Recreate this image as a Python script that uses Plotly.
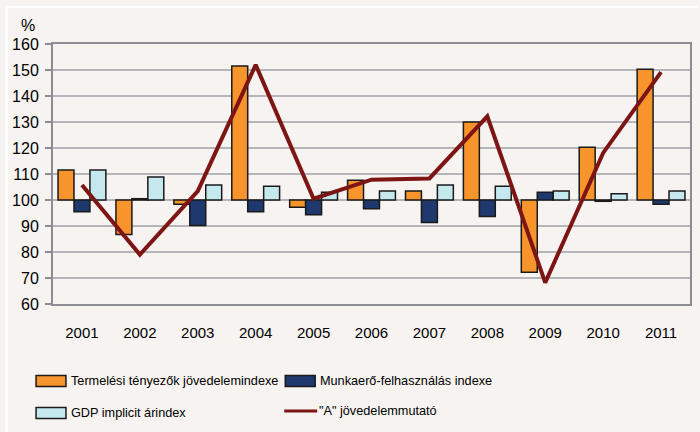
import plotly.graph_objects as go

years = ["2001", "2002", "2003", "2004", "2005", "2006", "2007", "2008", "2009", "2010", "2011"]
termelesi = [111.5, 86.7, 98.4, 151.5, 97.2, 107.6, 103.5, 130.0, 72.2, 120.3, 150.3]
munkaero = [95.5, 100.5, 90.2, 95.5, 94.3, 96.6, 91.3, 93.7, 103.0, 99.5, 98.4]
gdp_arindex = [111.5, 108.8, 105.8, 105.3, 103.0, 103.5, 105.8, 105.3, 103.5, 102.4, 103.5]
a_jovedelem = [105.8, 79.0, 103.4, 152.0, 100.5, 107.8, 108.3, 132.2, 68.2, 118.1, 149.2]

names = ["Termelési tényezők jövedelemindexe", "Munkaerő-felhasználás indexe",
         "GDP implicit árindex", "\"A\" jövedelemmutató"]

BASE = 100
ORANGE = "#F7942C"
NAVY = "#1F386E"
LIGHT = "#C5E8EE"
LINE = "#7D1515"
BG = "#F6F3F0"
GRID = "#B6B6BA"
BORDER = "#8C8C92"

W, H = 700, 432
L, R, T, B = 53, 8, 44, 128
PW, PH = W - L - R, H - T - B


def px(x):
    return (x - L) / PW


def py(y):
    return (H - B - y) / PH


fig = go.Figure()
for vals, col, nm in [(termelesi, ORANGE, names[0]), (munkaero, NAVY, names[1]), (gdp_arindex, LIGHT, names[2])]:
    fig.add_trace(go.Bar(
        x=years, y=[v - BASE for v in vals], base=BASE, name=nm,
        marker=dict(color=col, line=dict(color="#1A1A1A", width=1.5)),
        customdata=vals, hovertemplate="%{x}: %{customdata}<extra>" + nm + "</extra>",
        showlegend=False,
    ))
fig.add_trace(go.Scatter(
    x=years, y=a_jovedelem, mode="lines", name=names[3],
    line=dict(color=LINE, width=4), showlegend=False,
))

FONT = "Liberation Sans, Arial, sans-serif"
LEGFONT = "Liberation Sans Narrow, Arial Narrow, Liberation Sans, Arial, sans-serif"

shapes = [
    dict(type="line", xref="paper", yref="y", x0=0, x1=1, y0=BASE, y1=BASE,
         line=dict(color="#000000", width=1), layer="between"),
    # white bevel frame (top and left)
    dict(type="line", xref="paper", yref="paper", x0=px(6), x1=px(700), y0=py(7), y1=py(7),
         line=dict(color="#FFFFFF", width=2.5)),
    dict(type="line", xref="paper", yref="paper", x0=px(6.5), x1=px(6.5), y0=py(7), y1=py(432),
         line=dict(color="#FFFFFF", width=2.5)),
]

annotations = [
    dict(text="%", xref="paper", yref="paper", x=px(28), y=py(25), showarrow=False,
         font=dict(family=FONT, size=16, color="#000000"), xanchor="center", yanchor="middle"),
]

# custom legend
legend_items = [
    (36, 381, "box", ORANGE, names[0]),
    (286, 381, "box", NAVY, names[1]),
    (36, 413, "box", LIGHT, names[2]),
    (285, 411, "line", LINE, names[3]),
]
for x0, yc, kind, col, nm in legend_items:
    if kind == "box":
        shapes.append(dict(type="rect", xref="paper", yref="paper",
                           x0=px(x0), x1=px(x0 + 30), y0=py(yc - 5.5), y1=py(yc + 5.5),
                           fillcolor=col, line=dict(color="#1A1A1A", width=1.5)))
    else:
        shapes.append(dict(type="line", xref="paper", yref="paper",
                           x0=px(x0), x1=px(x0 + 33), y0=py(yc), y1=py(yc),
                           line=dict(color=col, width=3)))
    annotations.append(dict(text=nm, xref="paper", yref="paper", x=px(x0 + 33), y=py(yc),
                            showarrow=False, xanchor="left", yanchor="middle",
                            font=dict(family=LEGFONT, size=12.7, color="#000000")))

fig.update_layout(
    width=W, height=H,
    margin=dict(l=L, r=R, t=T, b=B, pad=0),
    paper_bgcolor=BG, plot_bgcolor=BG,
    barmode="group", bargap=0.174, bargroupgap=0,
    showlegend=False,
    shapes=shapes, annotations=annotations,
    font=dict(family=FONT, size=15, color="#000000"),
    xaxis=dict(type="category", showgrid=False, showline=True, mirror=True,
               linecolor=BORDER, linewidth=2, ticks="", ticklabelstandoff=14,
               tickfont=dict(family=FONT, size=15, color="#000000")),
    yaxis=dict(range=[60, 160], dtick=10, tick0=60, showgrid=True, gridcolor=GRID, gridwidth=1.5,
               showline=True, mirror=True, linecolor=BORDER, linewidth=2,
               ticks="outside", ticklen=6, tickwidth=2, tickcolor=BORDER,
               zeroline=False, ticklabelstandoff=3,
               tickfont=dict(family=FONT, size=16, color="#000000")),
)

fig.write_html("out.html", config={"displayModeBar": False},
               post_script="document.body.style.margin='0';document.body.style.background='" + BG + "';")
